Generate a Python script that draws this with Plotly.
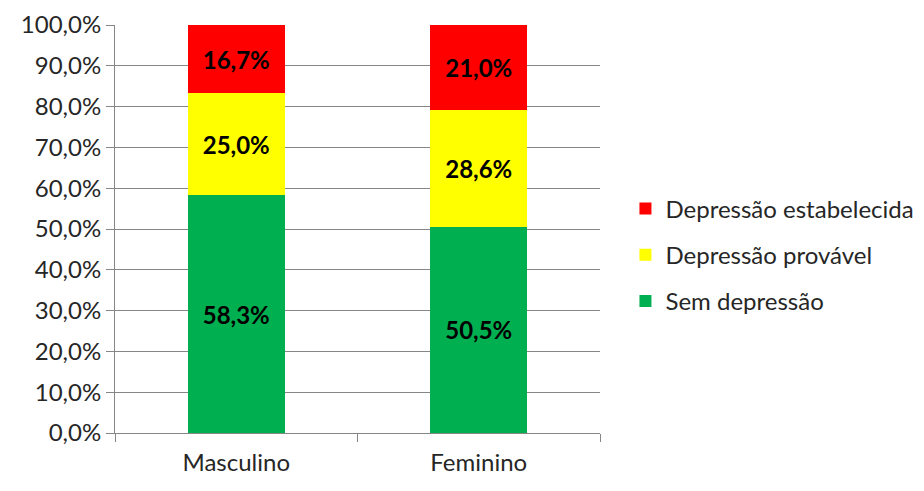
import plotly.graph_objects as go

categories = ["Masculino", "Feminino"]
sem_depressao = [58.3, 50.5]
depressao_provavel = [25.0, 28.6]
depressao_estabelecida = [16.7, 21.0]

series = [
    ("Sem depressão", sem_depressao, "#00B050", 3),
    ("Depressão provável", depressao_provavel, "#FFFF00", 2),
    ("Depressão estabelecida", depressao_estabelecida, "#FF0000", 1),
]

fig = go.Figure()
for name, values, color, rank in series:
    fig.add_trace(
        go.Bar(
            x=categories,
            y=values,
            name=name,
            legendgroup=name,
            legendrank=rank,
            marker=dict(color=color, line=dict(width=0)),
            width=0.4,
            texttemplate="%{y:.1f}%",
            textposition="inside",
            insidetextanchor="middle",
            textangle=0,
            textfont=dict(family="Lato", size=24, color="black", weight="bold"),
        )
    )

# page has an 8px body margin, so the figure is 16px smaller than the window
fig.update_layout(
    width=908,
    height=475,
    barmode="stack",
    separators=",.",
    paper_bgcolor="white",
    plot_bgcolor="white",
    font=dict(family="Lato", size=24, color="#262626"),
    margin=dict(l=107, r=316, t=17, b=50),
    showlegend=True,
    legend=dict(
        xref="container",
        yref="container",
        x=0.68,
        y=0.48,
        xanchor="left",
        yanchor="middle",
        traceorder="grouped",
        tracegroupgap=12,
        font=dict(size=24, color="#262626"),
        itemwidth=30,
    ),
    xaxis=dict(
        automargin=False,
        ticklabeloverflow="allow",
        showline=True,
        linecolor="#868686",
        ticks="outside",
        tickson="boundaries",
        ticklen=8,
        tickcolor="#868686",
        ticklabelstandoff=8,
        showgrid=False,
    ),
    yaxis=dict(
        automargin=False,
        ticklabeloverflow="allow",
        range=[0, 100],
        dtick=10,
        tickformat=".1f",
        ticksuffix="%",
        showgrid=True,
        gridcolor="#868686",
        showline=True,
        linecolor="#868686",
        ticks="outside",
        ticklen=8,
        tickcolor="#868686",
        zeroline=False,
    ),
)

fig.write_html("out.html")
